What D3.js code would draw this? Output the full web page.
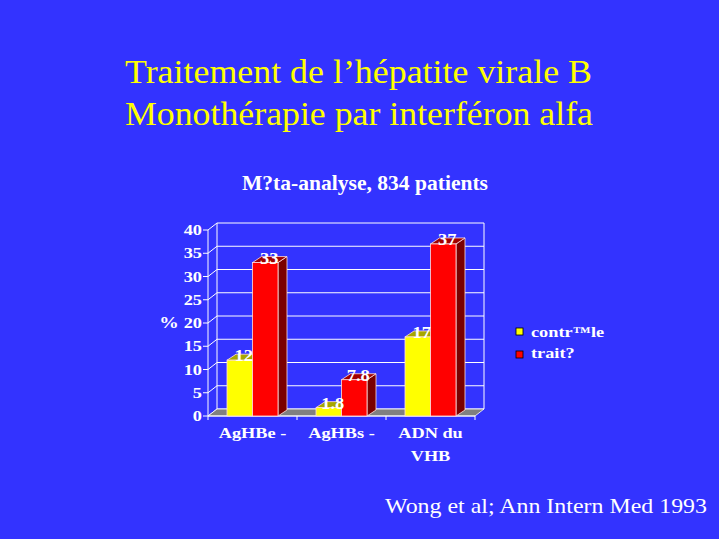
<!DOCTYPE html>
<html><head><meta charset="utf-8">
<script src="https://cdn.jsdelivr.net/npm/d3@7"></script>
<style>html,body{margin:0;padding:0;background:#3333ff;}svg{display:block;}</style>
</head><body>
<script>
const categories = [["AgHBe -"], ["AgHBs -"], ["ADN du", "VHB"]];
const seriesNames = ["contr\u2122le", "trait?"];
const controle = [12, 1.8, 17];
const traite = [33, 7.8, 37];
const yTicks = [0, 5, 10, 15, 20, 25, 30, 35, 40];

const W = 719, H = 539;
const svg = d3.select("body").append("svg").attr("width", W).attr("height", H);
svg.append("rect").attr("width", W).attr("height", H).attr("fill", "#3333ff");

const serif = "'Liberation Serif','Times New Roman',serif";
const SX = 1.22;
function stext(parent, x, yy, txt, opts) {
  const o = Object.assign({size: 15, bold: true, anchor: "middle", fill: "#fff", sx: SX}, opts || {});
  return parent.append("text")
    .attr("transform", `translate(${x},${yy}) scale(${o.sx},1)`)
    .attr("text-anchor", o.anchor).attr("font-family", serif)
    .attr("font-size", o.size).attr("font-weight", o.bold ? "bold" : "normal")
    .attr("fill", o.fill).text(txt);
}
function ltext(x, yy, txt, size, len, anchor, fill, bold) {
  return svg.append("text").attr("x", x).attr("y", yy).attr("text-anchor", anchor)
    .attr("font-family", serif).attr("font-size", size).attr("fill", fill)
    .attr("font-weight", bold ? "bold" : "normal")
    .attr("textLength", len).attr("lengthAdjust", "spacingAndGlyphs").text(txt);
}
ltext(125, 83, "Traitement de l\u2019hépatite virale B", 33, 467, "start", "#ffff00", false);
ltext(125, 125, "Monothérapie par interféron alfa", 33, 468, "start", "#ffff00", false);
ltext(242, 190, "M?ta-analyse, 834 patients", 21, 246, "start", "#fff", true);
ltext(385, 513, "Wong et al; Ann Intern Med 1993", 22, 322, "start", "#fff", false);

const x0 = 208, x1 = 475, yBase = 416, yTop = 230;
const dx = 9, dy = -7;
const y = d3.scaleLinear().domain([0, 40]).range([yBase, yTop]);
const xBand = d3.scaleBand().domain(d3.range(categories.length)).range([x0, x1]);
const inner = d3.scaleBand().domain([0, 1]).range([0, 51]);
const g = svg.append("g");

g.selectAll("line.grid").data(yTicks).join("line")
  .attr("x1", x0 + dx).attr("x2", x1 + dx)
  .attr("y1", d => y(d) + dy).attr("y2", d => y(d) + dy)
  .attr("stroke", "#fff").attr("stroke-width", 1);
g.selectAll("line.side").data(yTicks).join("line")
  .attr("x1", x0).attr("x2", x0 + dx)
  .attr("y1", d => y(d)).attr("y2", d => y(d) + dy)
  .attr("stroke", "#fff").attr("stroke-width", 1);
g.append("line").attr("x1", x0 + dx).attr("x2", x0 + dx).attr("y1", y(40) + dy).attr("y2", y(0) + dy).attr("stroke", "#fff");
g.append("line").attr("x1", x1 + dx).attr("x2", x1 + dx).attr("y1", y(40) + dy).attr("y2", y(0) + dy).attr("stroke", "#fff");
g.append("path")
  .attr("d", `M${x0},${yBase}L${x1},${yBase}L${x1 + dx},${yBase + dy}L${x0 + dx},${yBase + dy}Z`)
  .attr("fill", "#808080").attr("stroke", "#fff").attr("stroke-width", 0.8);
g.append("line").attr("x1", x0).attr("x2", x0).attr("y1", y(40)).attr("y2", y(0)).attr("stroke", "#fff");
g.append("line").attr("x1", x0).attr("x2", x1).attr("y1", yBase).attr("y2", yBase).attr("stroke", "#fff");
g.selectAll("line.ytick").data(yTicks).join("line")
  .attr("x1", x0 - 5).attr("x2", x0).attr("y1", d => y(d)).attr("y2", d => y(d))
  .attr("stroke", "#fff");
yTicks.forEach(t => stext(g, x0 - 6, y(t) + 5, t, {anchor: "end", size: 15}));
stext(svg, 169, 328, "%", {size: 16});
g.selectAll("line.xtick").data(d3.range(categories.length + 1)).join("line")
  .attr("x1", d => x0 + d * xBand.bandwidth()).attr("x2", d => x0 + d * xBand.bandwidth())
  .attr("y1", yBase).attr("y2", yBase + 4).attr("stroke", "#fff");

const bdx = 9, bdy = -6;
const series = [
  {vals: controle, front: "#ffff00", top: "#a6a600", side: "#7f7f00"},
  {vals: traite, front: "#ff0000", top: "#a00000", side: "#7a0000"}
];
const bars = [];
categories.forEach((c, i) => {
  series.forEach((s, j) => {
    const bx = xBand(i) + (xBand.bandwidth() - 51) / 2 + inner(j);
    bars.push({i, j, x: bx, w: inner.bandwidth(), v: s.vals[i], s});
  });
});
const bg = g.selectAll("g.bar").data(bars).join("g");
bg.append("path").attr("d", d => {
  const xr = d.x + d.w, yt = y(d.v);
  return `M${xr},${yBase}L${xr + bdx},${yBase + bdy}L${xr + bdx},${yt + bdy}L${xr},${yt}Z`;
}).attr("fill", d => d.s.side).attr("stroke", "#ffdede").attr("stroke-width", 0.8);
bg.append("path").attr("d", d => {
  const yt = y(d.v);
  return `M${d.x},${yt}L${d.x + bdx},${yt + bdy}L${d.x + d.w + bdx},${yt + bdy}L${d.x + d.w},${yt}Z`;
}).attr("fill", d => d.s.top).attr("stroke", "#ffdede").attr("stroke-width", 0.8);
bg.append("rect").attr("x", d => d.x).attr("y", d => y(d.v)).attr("width", d => d.w)
  .attr("height", d => yBase - y(d.v)).attr("fill", d => d.s.front)
  .attr("stroke", "#ffdede").attr("stroke-width", 0.8);
bars.forEach(d => stext(g, d.x + d.w / 2 + 4, y(d.v) + 1, d.v, {size: 16, sx: 1.15}));

categories.forEach((c, i) => {
  c.forEach((line, k) => stext(svg, xBand(i) + xBand.bandwidth() / 2, 438 + k * 23, line, {size: 15}));
});

const colors = ["#ffff00", "#ff0000"];
const lg = svg.append("g");
seriesNames.forEach((n, k) => {
  lg.append("rect").attr("x", 516).attr("y", 328 + k * 23).attr("width", 7).attr("height", 7)
    .attr("fill", colors[k]).attr("stroke", "#000").attr("stroke-width", 0.8);
  stext(lg, 531, 337 + k * 21, n, {anchor: "start", size: 15});
});
</script>
</body></html>
